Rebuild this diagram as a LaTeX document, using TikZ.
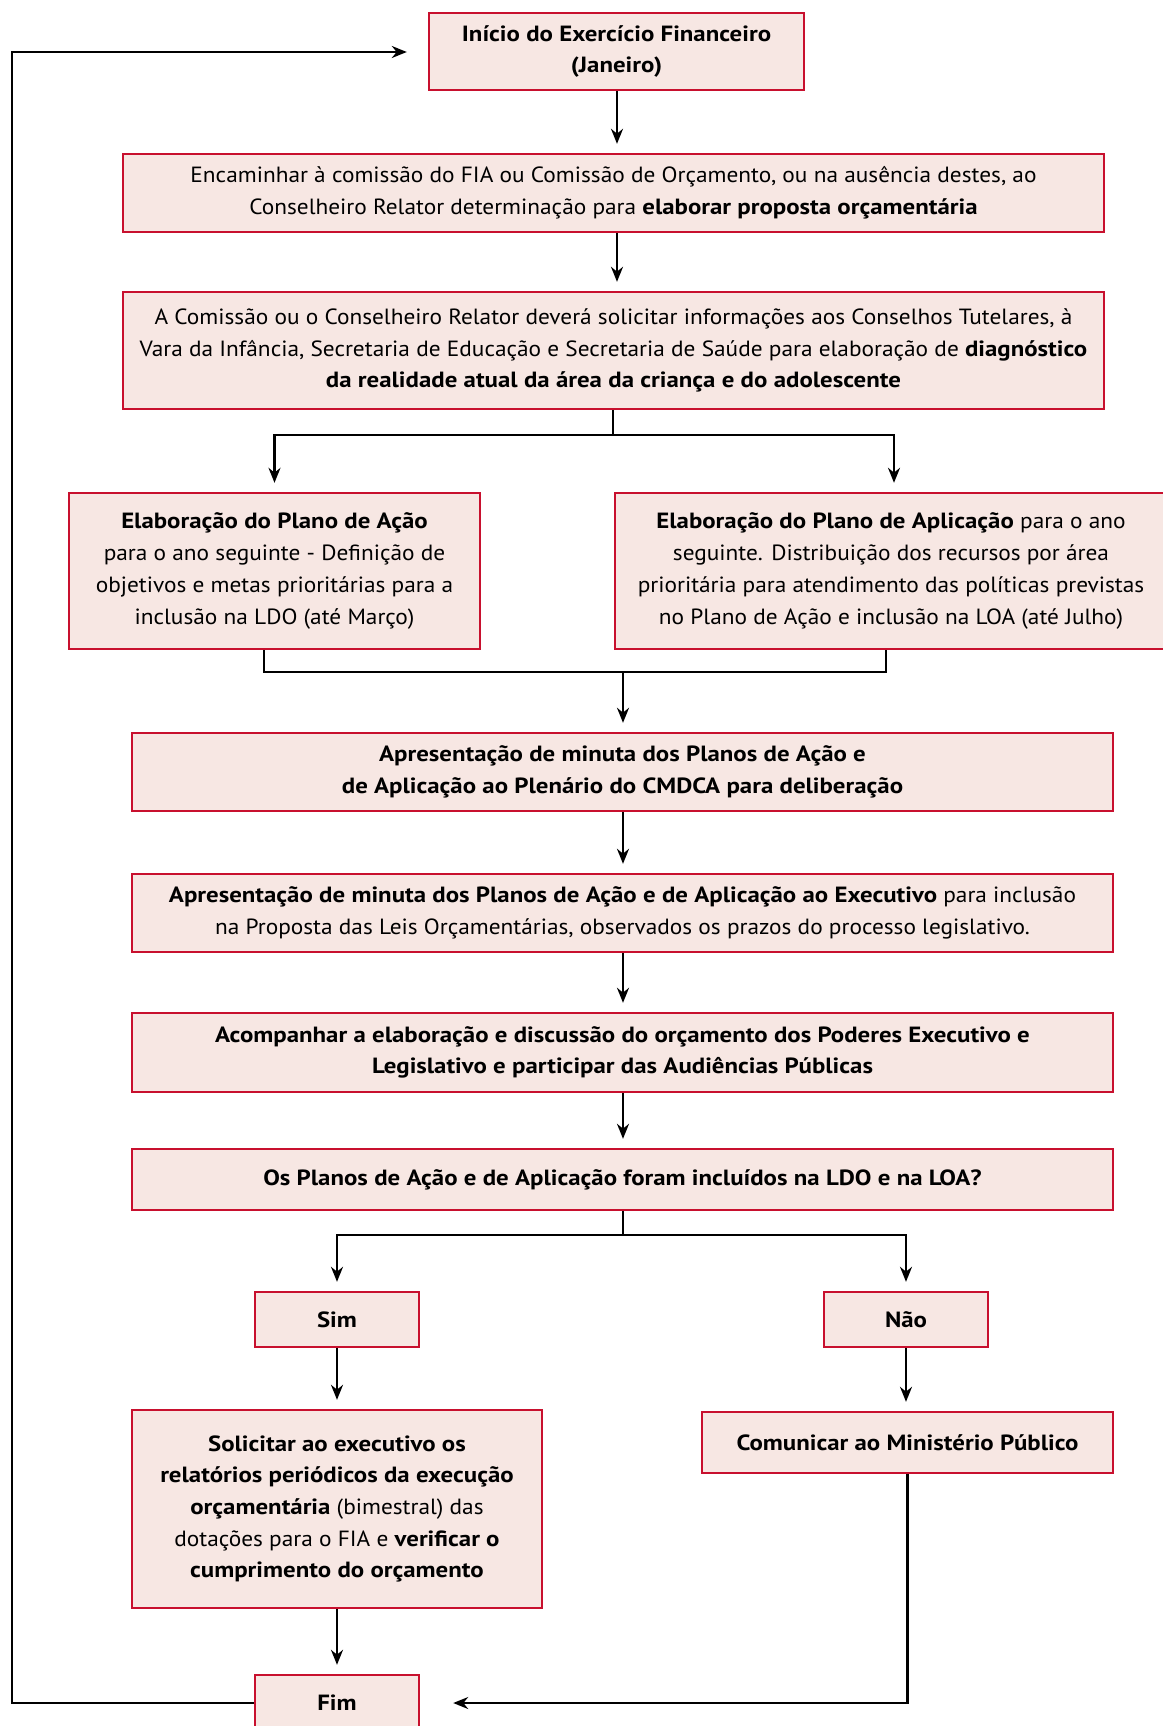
\documentclass[tikz,border=0pt]{standalone}
\usepackage{fontspec}
\setmainfont{PT Sans}[UprightFeatures={FakeStretch=1.06},BoldFeatures={FakeStretch=1.13}]
\usetikzlibrary{arrows.meta}
\definecolor{boxred}{HTML}{C8102E}
\definecolor{boxfill}{HTML}{F7E7E3}
\tikzset{
  passo/.style={draw=boxred,fill=boxfill,line width=2.4pt,inner sep=0pt,align=center,
    font=\fontsize{22}{31.7}\selectfont},
  liga/.style={line width=2.2pt},
  seta/.style={liga,->,shorten >=9pt}
}

\begin{document}
\begin{tikzpicture}[x=1pt,y=-1pt,>={Stealth[length=15pt,width=12pt]},line join=miter]
\useasboundingbox (0,0) rectangle (1162,1726);
\node[passo,minimum width=375pt,minimum height=77pt] (inicio) at (616.5,51.5)
  {\textbf{Início do Exercício Financeiro}\\\textbf{(Janeiro)}};
\node[passo,minimum width=981pt,minimum height=78pt] (encam) at (613.5,193)
  {Encaminhar à comissão do FIA ou Comissão de Orçamento, ou na ausência destes, ao\\
   Conselheiro Relator determinação para \textbf{elaborar proposta orçamentária}};
\node[passo,minimum width=981pt,minimum height=117pt] (comissao) at (613.5,350.5)
  {A Comissão ou o Conselheiro Relator deverá solicitar informações aos Conselhos Tutelares, à\\
   Vara da Infância, Secretaria de Educação e Secretaria de Saúde para elaboração de \textbf{diagnóstico}\\
   \textbf{da realidade atual da área da criança e do adolescente}};
\node[passo,minimum width=411pt,minimum height=156pt] (acao) at (274.5,571)
  {\textbf{Elaboração do Plano de Ação}\\ para o ano seguinte - Definição de\\
   objetivos e metas prioritárias para a\\ inclusão na LDO (até Março)};
\node[passo,minimum width=552pt,minimum height=156pt] (aplic) at (891,571)
  {\textbf{Elaboração do Plano de Aplicação} para o ano\\ seguinte. Distribuição dos recursos por área\\
   prioritária para atendimento das políticas previstas\\ no Plano de Ação e inclusão na LOA (até Julho)};
\node[passo,minimum width=981pt,minimum height=78pt] (minuta) at (622.5,772)
  {\textbf{Apresentação de minuta dos Planos de Ação e}\\
   \textbf{de Aplicação ao Plenário do CMDCA para deliberação}};
\node[passo,minimum width=981pt,minimum height=78pt] (executivo) at (622.5,913)
  {\textbf{Apresentação de minuta dos Planos de Ação e de Aplicação ao Executivo} para inclusão\\
   na Proposta das Leis Orçamentárias, observados os prazos do processo legislativo.};
\node[passo,minimum width=981pt,minimum height=79pt] (acomp) at (622.5,1052.5)
  {\textbf{Acompanhar a elaboração e discussão do orçamento dos Poderes Executivo e}\\
   \textbf{Legislativo e participar das Audiências Públicas}};
\node[passo,minimum width=981pt,minimum height=61pt] (incluidos) at (622.5,1179.5)
  {\textbf{Os Planos de Ação e de Aplicação foram incluídos na LDO e na LOA?}};
\node[passo,minimum width=164pt,minimum height=55pt] (sim) at (337,1319.5) {\textbf{Sim}};
\node[passo,minimum width=164pt,minimum height=55pt] (nao) at (906,1319.5) {\textbf{Não}};
\node[passo,minimum width=410pt,minimum height=198pt] (solicitar) at (337,1509)
  {\textbf{Solicitar ao executivo os}\\ \textbf{relatórios periódicos da execução}\\
   \textbf{orçamentária} (bimestral) das\\ dotações para o FIA e \textbf{verificar o}\\
   \textbf{cumprimento do orçamento}};
\node[passo,minimum width=411pt,minimum height=61pt] (comunicar) at (907.5,1442.5)
  {\textbf{Comunicar ao Ministério Público}};
\node[passo,minimum width=164pt,minimum height=56pt] (fim) at (337,1703) {\textbf{Fim}};
% pontos de ligacao
\coordinate (eixoA) at (617,0);
\coordinate (eixoB) at (623,0);
\coordinate (ramo1) at (613,435);
\coordinate (ramo1d) at (894,435);
\coordinate (juntaE) at (264,672);
\coordinate (juntaD) at (886,672);
\coordinate (junta) at (623,672);
\coordinate (ramo2) at (623,1235);
\coordinate (volta) at (12,52);
% setas
\draw[seta] (eixoA |- inicio.south) -- (eixoA |- encam.north);
\draw[seta] (eixoA |- encam.south) -- (eixoA |- comissao.north);
\draw[liga] (ramo1 |- comissao.south) -- (ramo1);
\draw[seta] (ramo1) -| (acao.north);
\draw[seta] (ramo1) -- (ramo1d) -- (ramo1d |- aplic.north);
\draw[liga] (juntaE |- acao.south) -- (juntaE) -- (juntaD) -- (juntaD |- aplic.south);
\draw[seta] (junta) -- (junta |- minuta.north);
\foreach \a/\b in {minuta/executivo,executivo/acomp,acomp/incluidos}
  \draw[seta] (eixoB |- \a.south) -- (eixoB |- \b.north);
\draw[liga] (ramo2 |- incluidos.south) -- (ramo2);
\draw[seta] (ramo2) -| (sim.north);
\draw[seta] (ramo2) -| (nao.north);
\draw[seta] (sim.south) -- (solicitar.north);
\draw[seta] (nao.south) -- (nao.south |- comunicar.north);
\draw[seta] (solicitar.south) -- (fim.north);
\draw[seta,shorten >=33pt] (comunicar.south) |- (fim.east);
\draw[seta,shorten >=21pt] (fim.west) -| (volta) -- (volta -| inicio.west);
\end{tikzpicture}
\end{document}
